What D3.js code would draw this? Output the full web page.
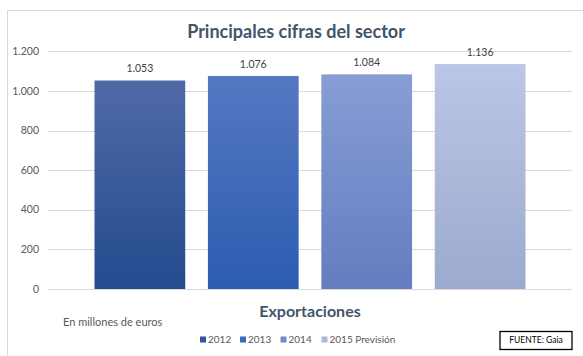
<!DOCTYPE html>
<html><head><meta charset="utf-8">
<script src="https://cdn.jsdelivr.net/npm/d3@7"></script>
<style>
html,body{margin:0;padding:0;background:#fff;}
svg{display:block;font-family:"Lato","Open Sans",sans-serif;}
</style></head>
<body><svg id="c" width="583" height="356"></svg>
<script>
const title = "Principales cifras del sector";
const category = "Exportaciones";
const series = ["2012", "2013", "2014", "2015 Previsión"];
const values = [1053, 1076, 1084, 1136];
const valueLabels = ["1.053", "1.076", "1.084", "1.136"];
const yTicks = [0, 200, 400, 600, 800, 1000, 1200];
const yTickLabels = ["0", "200", "400", "600", "800", "1.000", "1.200"];
const topColors = ["#506AA7", "#5678C2", "#879DD4", "#BCC6E6"];
const bottomColors = ["#234B8E", "#2C5CB0", "#637DC0", "#9BAACE"];
const legendColors = ["#2F5597", "#3D67BA", "#7189C9", "#ADBADC"];
const note = "En millones de euros";
const source = "FUENTE: Gaia";

const svg = d3.select("#c");
const W = 583, H = 356;
const plot = {left: 48, right: 572, top: 51.4, bottom: 289};

// chart frame (top and left edges visible)
svg.append("line").attr("x1", 7.5).attr("x2", W).attr("y1", 10.5).attr("y2", 10.5)
  .attr("stroke", "#d9d9d9").attr("stroke-width", 1);
svg.append("line").attr("x1", 7.5).attr("x2", 7.5).attr("y1", 10.5).attr("y2", H)
  .attr("stroke", "#d9d9d9").attr("stroke-width", 1);

const defs = svg.append("defs");
series.forEach((s, i) => {
  const g = defs.append("linearGradient").attr("id", "g" + i)
    .attr("x1", 0).attr("y1", 0).attr("x2", 0).attr("y2", 1);
  g.append("stop").attr("offset", "0%").attr("stop-color", topColors[i]);
  g.append("stop").attr("offset", "100%").attr("stop-color", bottomColors[i]);
});

const y = d3.scaleLinear().domain([0, 1200]).range([plot.bottom, plot.top]);
const x = d3.scaleBand().domain(series).range([plot.left, plot.right])
  .paddingInner(0.2).paddingOuter(0.41);

// gridlines
svg.append("g").selectAll("line").data(yTicks).join("line")
  .attr("x1", plot.left).attr("x2", plot.right)
  .attr("y1", d => Math.round(y(d)) + 0.5).attr("y2", d => Math.round(y(d)) + 0.5)
  .attr("stroke", "#d9d9d9").attr("stroke-width", 1);

// y tick labels
svg.append("g").selectAll("text").data(yTicks).join("text")
  .attr("x", 39).attr("y", d => y(d)).attr("dy", "0.35em")
  .attr("text-anchor", "end").attr("font-size", 10.5).attr("fill", "#595959")
  .text((d, i) => yTickLabels[i]);

// bars
svg.append("g").selectAll("rect").data(values).join("rect")
  .attr("x", (d, i) => x(series[i])).attr("width", x.bandwidth())
  .attr("y", d => y(d)).attr("height", d => y(0) - y(d))
  .attr("fill", (d, i) => `url(#g${i})`);

// value labels
svg.append("g").selectAll("text").data(values).join("text")
  .attr("x", (d, i) => x(series[i]) + x.bandwidth() / 2)
  .attr("y", d => y(d) - 12).attr("dy", "0.35em")
  .attr("text-anchor", "middle").attr("font-size", 10.5).attr("fill", "#404040")
  .text((d, i) => valueLabels[i]);

// title
svg.append("text").attr("x", 296).attr("y", 31.5).attr("dy", "0.35em").attr("text-anchor", "middle")
  .attr("font-size", 18).attr("font-weight", "bold").attr("fill", "#44546A").text(title);

// category axis title
svg.append("text").attr("x", 310).attr("y", 311).attr("dy", "0.35em").attr("text-anchor", "middle")
  .attr("font-size", 16).attr("font-weight", "bold").attr("fill", "#44546A").text(category);

// note
svg.append("text").attr("x", 63).attr("y", 322).attr("dy", "0.35em")
  .attr("font-size", 11).attr("fill", "#595959").text(note);

// legend
const legendX = [200, 240, 280.5, 321.5];
const lg = svg.append("g").selectAll("g").data(series).join("g")
  .attr("transform", (d, i) => `translate(${legendX[i]},339.5)`);
lg.append("rect").attr("x", 0).attr("y", -3).attr("width", 6).attr("height", 6)
  .attr("fill", (d, i) => legendColors[i]);
lg.append("text").attr("x", 8).attr("y", 0).attr("dy", "0.35em")
  .attr("font-size", 10).attr("fill", "#595959").text(d => d);

// source box
svg.append("rect").attr("x", 500).attr("y", 331.5).attr("width", 72).attr("height", 18)
  .attr("fill", "#fff").attr("stroke", "#000").attr("stroke-width", 1.3);
svg.append("text").attr("x", 536).attr("y", 340.5).attr("dy", "0.35em").attr("text-anchor", "middle")
  .attr("font-size", 8.5).attr("fill", "#000").text(source);
</script></body></html>
